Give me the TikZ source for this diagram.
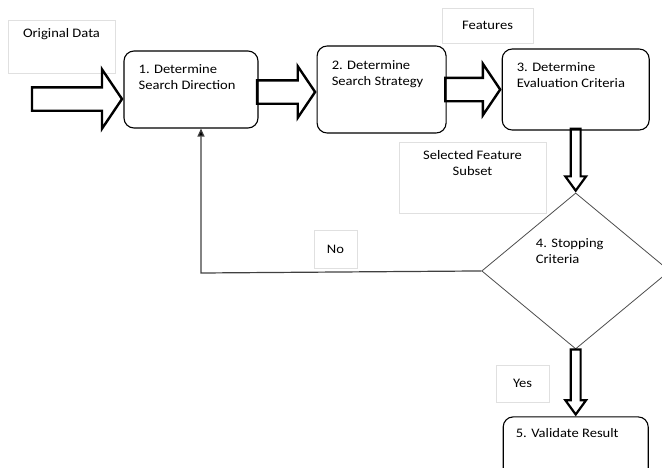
\documentclass[tikz,border=0pt]{standalone}
\usepackage{fontspec}
\setmainfont{Carlito}[FakeStretch=1.12]
\usetikzlibrary{arrows.meta, positioning, shapes.geometric, shapes.arrows}

\begin{document}
\begin{tikzpicture}[
    x=1pt, y=-1pt,
    every node/.style={font=\fontsize{13pt}{16pt}\selectfont},
    stepbox/.style={rectangle, draw, line width=1.1pt, rounded corners=10pt, inner sep=0pt},
    boxlbl/.style={anchor=north west, align=left, inner sep=0pt, xshift=15pt, yshift=-14pt},
    note/.style={rectangle, draw=black!12, line width=0.6pt, inner sep=0pt, align=center},
    notelbl/.style={anchor=north, align=center, inner sep=0pt, yshift=-9pt},
    decision/.style={diamond, draw=black!70, line width=0.8pt, inner sep=0pt, minimum width=188pt, minimum height=156pt},
    hbar/.style={single arrow, draw, line width=2.4pt, inner sep=10.5pt, single arrow tip angle=112, single arrow head extend=14pt, minimum height=#1},
    vbar/.style={single arrow, draw, line width=2.2pt, inner sep=3.8pt, single arrow tip angle=72, single arrow head extend=5.5pt, shape border rotate=270, minimum height=#1},
    loopback/.style={draw=black!75, line width=1.2pt, -{Triangle[length=8pt, width=7pt, fill=black]}},
]
\clip (0,0) rectangle (662,467);

% Process steps
\node[stepbox, minimum width=134pt, minimum height=77pt,
      label={[boxlbl]north west:1. Determine\\Search Direction}] (dir) at (191,89.5) {};
\node[stepbox, minimum width=129pt, minimum height=87pt, right=58pt of dir,
      label={[boxlbl, yshift=-1pt]north west:2. Determine\\Search Strategy}] (strat) {};
\node[stepbox, minimum width=147pt, minimum height=81pt, right=55pt of strat,
      label={[boxlbl]north west:3. Determine\\Evaluation Criteria}] (crit) {};
\node[decision, below=62pt of crit] (stop) {};
\node[anchor=north west, align=left, inner sep=0pt] (stoptxt) at ([xshift=-40pt, yshift=33pt]stop.center) {4. Stopping\\Criteria};
\node[stepbox, minimum width=145pt, minimum height=75pt, below=67pt of stop,
      label={[boxlbl, xshift=-2pt, yshift=2pt]north west:5. Validate Result}] (result) {};

% Notes
\node[note, minimum width=107pt, minimum height=53pt,
      label={[notelbl]north:Original Data}] (orig) at (61.5,46.5) {};
\node[note, minimum width=91pt, minimum height=35pt] (feat) at (487.5,25.5) {Features};
\node[note, minimum width=147pt, minimum height=71pt,
      label={[notelbl]north:Selected Feature\\Subset}] (subset) at (472.5,177.5) {};
\node[note, minimum width=43pt, minimum height=38pt] (no) at (335.5,249) {No};
\node[note, minimum width=53pt, minimum height=37pt] (yes) at (522.5,383.5) {Yes};

% Block arrows
\node[hbar=90pt, single arrow head extend=18pt, anchor=tip] (in) at ([yshift=-9.5pt]dir.west) {};
\node[hbar=58pt, anchor=tip] (a12) at ([yshift=-2.5pt]strat.west) {};
\node[hbar=55pt, anchor=tip] (a23) at (crit.west) {};
\node[vbar=62pt, anchor=tip] (a34) at (stop.north) {};
\node[vbar=65pt, anchor=tip] (a45) at (result.north) {};

% Back to step 1
\coordinate (turn) at (201,273);
\draw[loopback] (stop.west) -- (turn) -- (turn |- dir.south);

\end{tikzpicture}
\end{document}
